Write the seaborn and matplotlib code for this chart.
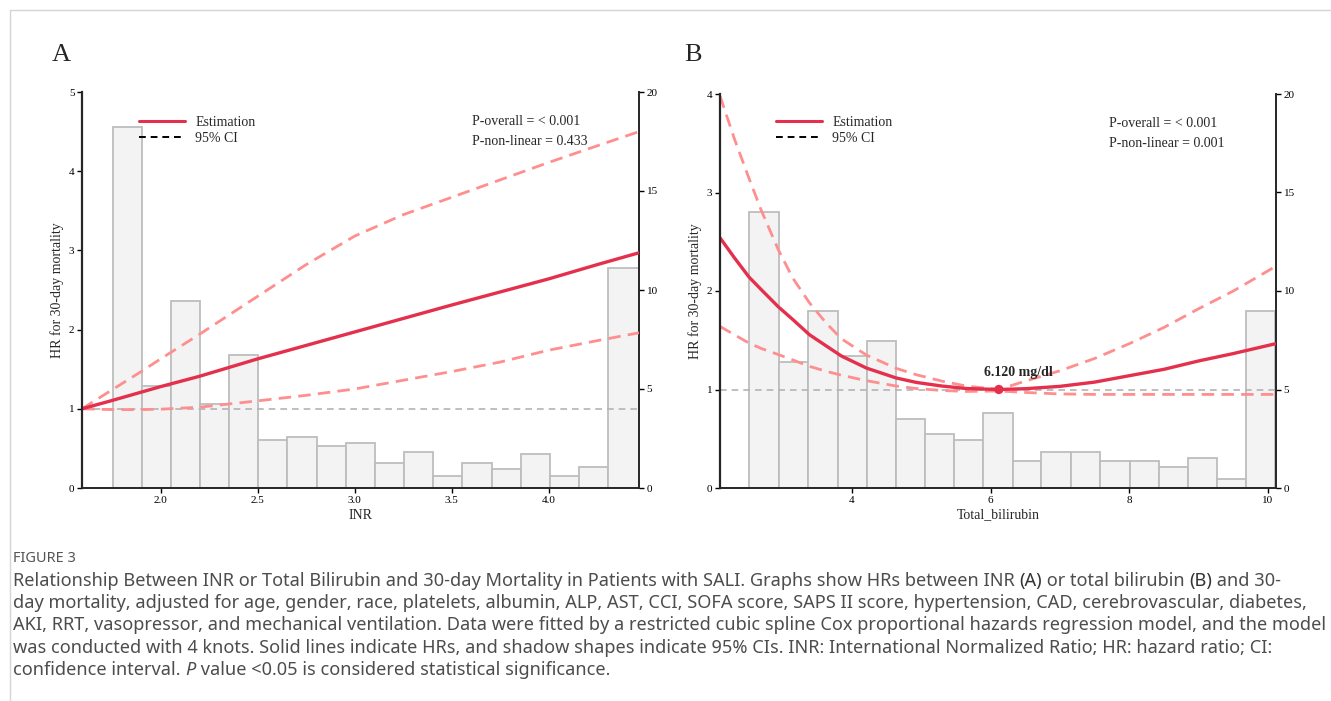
import matplotlib
matplotlib.use("Agg")
import matplotlib.pyplot as plt
from matplotlib.lines import Line2D
import seaborn as sns
import pandas as pd

sns.set_style("ticks")
plt.rcParams["font.family"] = ["Liberation Serif", "DejaVu Serif"]

# ---------------- data ----------------
# Panel A: INR
inr_x = [1.595, 1.75, 1.9, 2.0, 2.2, 2.35, 2.5, 2.75, 3.0, 3.25, 3.5, 3.75, 4.0, 4.25, 4.466]
inr_est = [1.0, 1.105, 1.21, 1.28, 1.41, 1.52, 1.63, 1.80, 1.97, 2.14, 2.31, 2.475, 2.64, 2.82, 2.97]
inr_hi = [1.0, 1.24, 1.47, 1.63, 1.94, 2.18, 2.42, 2.82, 3.18, 3.45, 3.67, 3.89, 4.11, 4.32, 4.50]
inr_lo = [1.0, 0.99, 0.99, 0.995, 1.02, 1.06, 1.10, 1.17, 1.25, 1.36, 1.47, 1.59, 1.74, 1.86, 1.96]
inr_bin_edges = [1.754, 1.904, 2.052, 2.203, 2.352, 2.504, 2.653, 2.804, 2.954, 3.104,
                 3.254, 3.406, 3.555, 3.706, 3.856, 4.005, 4.155, 4.306, 4.466]
inr_counts = [18.25, 5.16, 9.44, 4.26, 6.70, 2.42, 2.60, 2.14, 2.27, 1.24,
              1.84, 0.60, 1.24, 0.94, 1.70, 0.60, 1.08, 11.1]
inr_p = ["P-overall = < 0.001", "P-non-linear = 0.433"]

# Panel B: total bilirubin
bil_x = [2.1, 2.31, 2.52, 2.7, 2.94, 3.15, 3.39, 3.63, 3.85, 4.21, 4.64, 4.93, 5.3, 5.65,
         6.12, 6.5, 7.0, 7.5, 8.0, 8.5, 9.0, 9.5, 10.11]
bil_est = [2.54, 2.335, 2.14, 2.01, 1.84, 1.71, 1.556, 1.443, 1.34, 1.218, 1.117, 1.072, 1.035,
           1.01, 1.0, 1.008, 1.032, 1.075, 1.14, 1.205, 1.29, 1.365, 1.465]
bil_hi = [3.98, 3.54, 3.14, 2.81, 2.42, 2.13, 1.88, 1.675, 1.515, 1.35, 1.215, 1.15, 1.085,
          1.035, 1.0, 1.085, 1.19, 1.315, 1.465, 1.63, 1.82, 2.0, 2.25]
bil_lo = [1.64, 1.555, 1.47, 1.415, 1.355, 1.30, 1.235, 1.185, 1.145, 1.09, 1.035, 1.01, 0.99,
          0.98, 0.985, 0.97, 0.955, 0.95, 0.95, 0.95, 0.95, 0.95, 0.95]
bil_bin_edges = [2.523, 2.951, 3.374, 3.798, 4.216, 4.639, 5.057, 5.476, 5.894, 6.322,
                 6.730, 7.159, 7.581, 8.004, 8.422, 8.841, 9.265, 9.683, 10.106]
bil_counts = [14.0, 6.4, 9.0, 6.7, 7.48, 3.5, 2.76, 2.44, 3.8, 1.37,
              1.81, 1.81, 1.37, 1.37, 1.08, 1.52, 0.46, 8.97]
bil_p = ["P-overall = < 0.001", "P-non-linear = 0.001"]
bil_ref_x = 6.12
bil_ref_label = "6.120 mg/dl"

ref_hr = 1.0

caption_head = "FIGURE 3"
caption_lines = [
    [("Relationship Between INR or Total Bilirubin and 30-day Mortality in Patients with SALI. "
      "Graphs show HRs between INR ", "normal", "normal"),
     ("(A)", "bold", "normal"), (" or total bilirubin ", "normal", "normal"),
     ("(B)", "bold", "normal"), (" and 30-", "normal", "normal")],
    [("day mortality, adjusted for age, gender, race, platelets, albumin, ALP, AST, CCI, SOFA score, "
      "SAPS II score, hypertension, CAD, cerebrovascular, diabetes,", "normal", "normal")],
    [("AKI, RRT, vasopressor, and mechanical ventilation. Data were fitted by a restricted cubic "
      "spline Cox proportional hazards regression model, and the model", "normal", "normal")],
    [("was conducted with 4 knots. Solid lines indicate HRs, and shadow shapes indicate 95% CIs. "
      "INR: International Normalized Ratio; HR: hazard ratio; CI:", "normal", "normal")],
    [("confidence interval. ", "normal", "normal"), ("P", "normal", "italic"),
     (" value <0.05 is considered statistical significance.", "normal", "normal")],
]

EST_RED = "#e4304c"
CI_RED = "#ff8e8e"
REF_GRAY = "#b4b4b4"
BAR_FACE = "#f3f3f3"
BAR_EDGE = "#bdbdbd"

W, H = 1331, 701
fig = plt.figure(figsize=(W / 100, H / 100), dpi=100)


def px_axes(left, top, right, bottom):
    return fig.add_axes([left / W, 1 - bottom / H, (right - left) / W, (bottom - top) / H])


def draw_panel(ax, x, est, lo, hi, edges, counts, xlim, ylim, xticks, xfmt, xlabel,
               p_text, legend_anchor, p_anchor):
    tw = ax.twinx()
    centers = [(a + b) / 2 for a, b in zip(edges[:-1], edges[1:])]
    hist_df = pd.DataFrame({"value": centers, "count": counts})
    sns.histplot(data=hist_df, x="value", weights="count", bins=list(edges), ax=tw,
                 color=BAR_FACE, edgecolor=BAR_EDGE, linewidth=1.3, alpha=1)
    tw.set_ylim(0, 20)
    tw.set_yticks([0, 5, 10, 15, 20])
    tw.set_ylabel("")

    ax.set_zorder(tw.get_zorder() + 1)
    ax.patch.set_visible(False)

    ax.axhline(ref_hr, color=REF_GRAY, lw=1.2, linestyle=(0, (4, 3)), zorder=1)
    sns.lineplot(x=x, y=hi, ax=ax, color=CI_RED, lw=2.0, linestyle=(0, (4.5, 2.6)))
    sns.lineplot(x=x, y=lo, ax=ax, color=CI_RED, lw=2.0, linestyle=(0, (4.5, 2.6)))
    sns.lineplot(x=x, y=est, ax=ax, color=EST_RED, lw=2.4)

    ax.set_xlim(*xlim)
    ax.set_ylim(*ylim)
    ax.set_xticks(xticks)
    ax.set_xticklabels([xfmt.format(t) for t in xticks])
    ax.set_yticks(range(int(ylim[1]) + 1))
    ax.set_xlabel(xlabel, fontsize=10)
    ax.set_ylabel("HR for 30-day mortality", fontsize=10)
    ax.xaxis.set_label_coords(0.5, -0.052)
    ax.yaxis.set_label_coords(-0.032, 0.5)

    for s in ["top", "right"]:
        ax.spines[s].set_visible(False)
    for s in ["top", "left", "bottom"]:
        tw.spines[s].set_visible(False)
    ax.spines["left"].set_linewidth(1.6)
    ax.spines["bottom"].set_linewidth(1.4)
    tw.spines["right"].set_linewidth(1.4)
    for a in (ax, tw):
        a.tick_params(direction="out", length=3.5, width=1.0, labelsize=8, pad=2, colors="black")

    handles = [Line2D([], [], color=EST_RED, lw=2.2),
               Line2D([], [], color="black", lw=1.4, linestyle=(0, (3.5, 2.5)))]
    ax.legend(handles, ["Estimation", "95% CI"], loc="upper left", bbox_to_anchor=legend_anchor,
              frameon=False, fontsize=10, handlelength=3.3, handletextpad=0.75,
              labelspacing=0.2, borderpad=0, borderaxespad=0)
    ax.text(p_anchor[0], p_anchor[1], p_text[0], transform=ax.transAxes, fontsize=10, va="center")
    ax.text(p_anchor[0], p_anchor[1] - 0.051, p_text[1], transform=ax.transAxes, fontsize=10,
            va="center")
    return tw


ax_a = px_axes(82, 92, 639, 488)
draw_panel(ax_a, inr_x, inr_est, inr_lo, inr_hi, inr_bin_edges, inr_counts,
           (1.595, 4.466), (0, 5), [2.0, 2.5, 3.0, 3.5, 4.0], "{:.1f}", "INR",
           inr_p, (0.102, 0.94), (0.70, 0.925))

ax_b = px_axes(720, 94, 1276, 488)
draw_panel(ax_b, bil_x, bil_est, bil_lo, bil_hi, bil_bin_edges, bil_counts,
           (2.1, 10.115), (0, 4), [4, 6, 8, 10], "{:d}", "Total_bilirubin",
           bil_p, (0.101, 0.944), (0.70, 0.926))

sns.scatterplot(x=[bil_ref_x], y=[ref_hr], ax=ax_b, color=EST_RED, s=45, edgecolor="none",
                zorder=5)
ax_b.annotate(bil_ref_label, (bil_ref_x, ref_hr), xytext=(14, 12), textcoords="offset points",
              ha="center", va="center", fontsize=10, fontweight="bold")

fig.text(52 / W, 1 - 55 / H, "A", fontsize=19, va="center", ha="left")
fig.text(684 / W, 1 - 55 / H, "B", fontsize=19, va="center", ha="left")

# frame lines of the figure card
fig.add_artist(Line2D([10 / W, 1], [1 - 10 / H, 1 - 10 / H], color="#d5d5d5", lw=1.0))
fig.add_artist(Line2D([10 / W, 10 / W], [0, 1 - 10 / H], color="#d5d5d5", lw=1.0))

# caption: size chosen so that the widest line fits the width of the reference block
cap_font = ["Noto Sans", "DejaVu Sans"]
renderer = fig.canvas.get_renderer()


def run_width(runs, size):
    total = 0
    for s, w, st in runs:
        t = fig.text(0, 0, s, fontsize=size, family=cap_font, fontweight=w, fontstyle=st)
        total += t.get_window_extent(renderer=renderer).width
        t.remove()
    return total


widest = max(run_width(r, 12) for r in caption_lines)
cap_size = 12 * 1310 / widest

fig.text(13 / W, 1 - 558 / H, caption_head, fontsize=cap_size * 0.8, family=cap_font,
         color="#555555", va="center")
line_y = [581, 603, 625, 648, 670]
for runs, y in zip(caption_lines, line_y):
    x = 13
    for s, w, st in runs:
        t = fig.text(x / W, 1 - y / H, s, fontsize=cap_size, family=cap_font, fontweight=w,
                     fontstyle=st, color="#333333" if w == "bold" else "#4d4d4d", va="center")
        x += t.get_window_extent(renderer=renderer).width

fig.savefig("out.png", dpi=100)
